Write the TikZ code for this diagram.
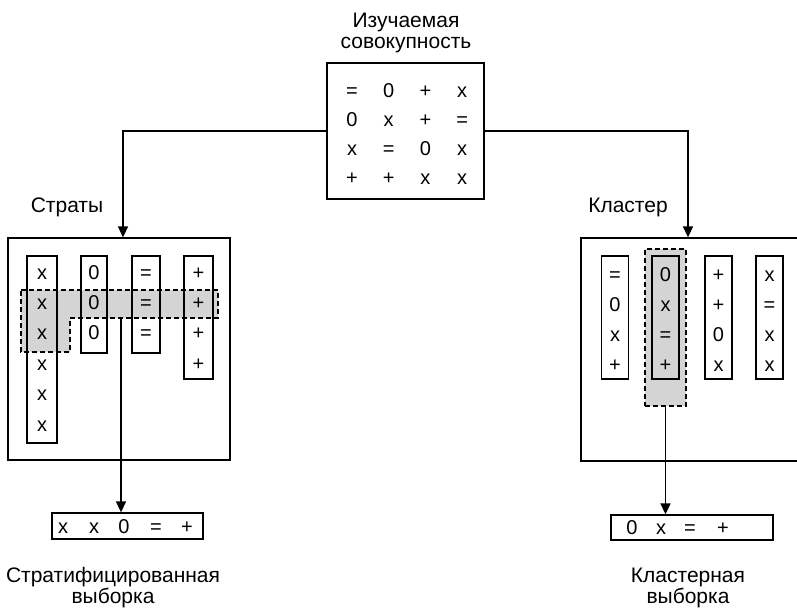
\documentclass[tikz,border=0pt]{standalone}
\usepackage{fontspec}
\setmainfont{Liberation Sans}
\usetikzlibrary{arrows.meta}

\tikzset{
  box/.style={draw, line width=1.3pt, inner sep=0pt},
  colbox/.style={draw, line width=1.2pt, inner sep=0pt, minimum width=#1},
  sym/.style={inner sep=0pt, anchor=base, font=\fontsize{20}{22}\selectfont},
  lbl/.style={inner sep=0pt, align=center, font=\fontsize{21}{21}\selectfont},
  sel/.style={draw, line width=1.2pt, dash pattern=on 5pt off 3pt, fill=black!17},
  arr/.style={line width=1.5pt, -{Triangle[length=11pt,width=10pt]}},
}

\begin{document}
\begin{tikzpicture}[x=1pt,y=-1pt]
\useasboundingbox (0,0) rectangle (797,608);
\clip (0,0) rectangle (797,608);

% population (anchor=base sits on the last line)
\node[lbl, anchor=base] (title) at (406,48) {Изучаемая\\совокупность};
\node[box, minimum width=157pt, minimum height=136pt] (pop) at (405.5,131) {};
\foreach \r/\row in {1/{=,0,+,x},2/{0,x,+,=},3/{x,=,0,x},4/{+,+,x,x}}{
  \foreach \s [count=\c] in \row {
    \pgfmathsetmacro\px{352+36.7*(\c-1)}
    \pgfmathsetmacro\py{97+29*(\r-1)}
    \node[sym] (p-\r-\c) at (\px,\py) {\s};
  }
}

% strata
\node[lbl, anchor=base] (stlabel) at (67,212) {Страты};
\node[box, minimum width=222pt, minimum height=222pt] (strata) at (119,349) {};

% selected elements of the strata
\path[sel] (21,290) -- (218,290) -- (218,318) -- (70,318) -- (70,352) -- (21,352) -- cycle;
\coordinate (strsel) at (121,318);

\node[colbox=30pt, minimum height=187pt] (s1) at (42,349.5) {};
\node[colbox=26pt, minimum height=97pt] (s2) at (94,304.5) {};
\node[colbox=28pt, minimum height=97pt] (s3) at (146,304.5) {};
\node[colbox=29pt, minimum height=123pt] (s4) at (198.5,317.5) {};
\foreach \i in {1,...,6} \node[sym] (s1-\i) at (42,{279+30.4*(\i-1)}) {x};
\foreach \i in {1,...,3} \node[sym] (s2-\i) at (94,{279+30.4*(\i-1)}) {0};
\foreach \i in {1,...,3} \node[sym] (s3-\i) at (146,{279+30.4*(\i-1)}) {=};
\foreach \i in {1,...,4} \node[sym] (s4-\i) at (198.5,{279+30.4*(\i-1)}) {+};

% clusters
\node[lbl, anchor=base] (cllabel) at (628,212) {Кластер};
\node[box, minimum width=240pt, minimum height=223pt] (clusters) at (701,349.5) {};

% selected cluster
\node[sel, inner sep=0pt, minimum width=41pt, minimum height=157pt] (clsel) at (665.5,327.5) {};

\foreach \x/\col [count=\k] in {615/{=,0,x,+},665.5/{0,x,=,+},718.5/{+,+,0,x},769.5/{x,=,x,x}}{
  \node[colbox=27pt, minimum height=123pt] (c\k) at (\x,317.5) {};
  \foreach \s [count=\i] in \col
    \node[sym] (c\k-\i) at (\x,{281+30*(\i-1)}) {\s};
}

% samples
\node[box, minimum width=151pt, minimum height=26pt] (ssample) at (127.5,526) {};
\foreach \s/\x [count=\i] in {x/63,x/94,0/124,=/156,+/187}
  \node[sym] (ss-\i) at (\x,533) {\s};
\node[lbl, anchor=base] (sslabel) at (113,603) {Стратифицированная\\выборка};

\node[box, minimum width=162pt, minimum height=25pt] (csample) at (692,527.5) {};
\foreach \s/\x [count=\i] in {0/632,x/661,=/690,+/723}
  \node[sym] (cs-\i) at (\x,534) {\s};
\node[lbl, anchor=base] (cslabel) at (688,603) {Кластерная\\выборка};

% connectors
\draw[arr] (pop.west) -| ([xshift=4pt]strata.north);
\draw[arr] (pop.east) -| ([xshift=-13pt]clusters.north);
\draw[arr] (strsel) -- (strsel |- ssample.north);
\draw[arr] (clsel.south) -- (clsel.south |- csample.north);
\end{tikzpicture}
\end{document}
